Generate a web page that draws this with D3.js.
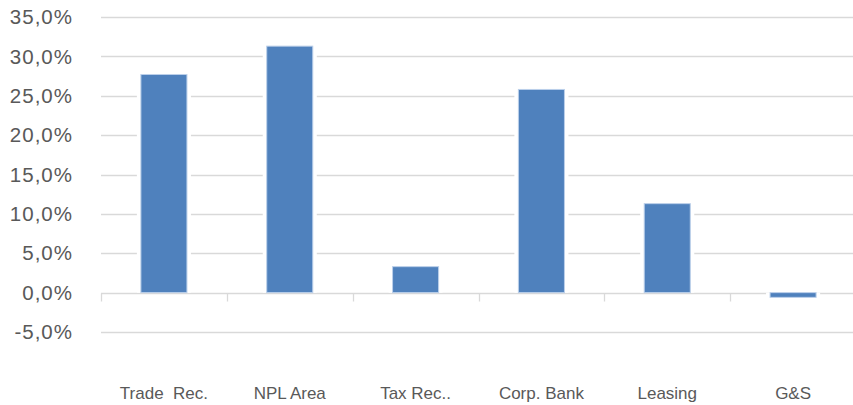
<!DOCTYPE html>
<html><head><meta charset="utf-8">
<script src="https://cdn.jsdelivr.net/npm/d3@7"></script>
<style>html,body{margin:0;padding:0;background:#fff;}svg{display:block;}</style>
</head><body>
<svg id="chart" width="853" height="405"></svg>
<script>
const categories = ["Trade  Rec.", "NPL Area", "Tax Rec..", "Corp. Bank", "Leasing", "G&S"];
const values = [27.7, 31.3, 3.3, 25.8, 11.3, -0.6];
const yTicks = [-5, 0, 5, 10, 15, 20, 25, 30, 35];

const svg = d3.select("#chart");
const margin = {left: 101, right: -3, top: 17, bottom: 73};
const W = 853, H = 405;
const x = d3.scaleBand().domain(categories).range([margin.left, W - margin.right]).paddingInner(0.634).paddingOuter(0.317);
const y = d3.scaleLinear().domain([-5, 35]).range([332, 17]);

// gridlines
svg.append("g").selectAll("line").data(yTicks.filter(d => d !== 0)).join("line")
  .attr("x1", margin.left).attr("x2", W).attr("y1", d => Math.round(y(d)) + 0.5).attr("y2", d => Math.round(y(d)) + 0.5)
  .attr("stroke", "#D9D9D9").attr("stroke-width", 1.3);

// y labels
const fmt = d => d3.format(".1f")(d).replace(".", ",").replace("\u2212", "-") + "%";
svg.append("g").selectAll("text").data(yTicks).join("text")
  .attr("x", 73).attr("y", d => y(d)).attr("dy", "0.35em").attr("text-anchor", "end")
  .attr("font-family", "'Liberation Sans', Arial, sans-serif").attr("font-size", 20.5)
  .attr("letter-spacing", 1).attr("fill", "#595959").text(fmt);

// zero axis with tick marks
const y0 = Math.round(y(0)) + 0.5;
svg.append("line").attr("x1", margin.left).attr("x2", W).attr("y1", y0).attr("y2", y0)
  .attr("stroke", "#D9D9D9").attr("stroke-width", 1.3);
const step = x.step();
const tickXs = d3.range(categories.length + 1).map(i => margin.left + i * step);
svg.append("g").selectAll("line").data(tickXs).join("line")
  .attr("x1", d => Math.round(d) + 0.5).attr("x2", d => Math.round(d) + 0.5)
  .attr("y1", y0).attr("y2", y0 + 8).attr("stroke", "#D9D9D9").attr("stroke-width", 1.3);

// bar halos (white gap in gridlines)
svg.append("g").selectAll("rect").data(values).join("rect")
  .attr("x", (d, i) => x(categories[i]) - 4)
  .attr("width", x.bandwidth() + 8)
  .attr("y", d => Math.min(y(d), y(0)))
  .attr("height", d => Math.abs(y(d) - y(0)))
  .attr("fill", "#fff");

// bars
svg.append("g").selectAll("rect").data(values).join("rect")
  .attr("x", (d, i) => x(categories[i]))
  .attr("width", x.bandwidth())
  .attr("y", d => Math.min(y(d), y(0)))
  .attr("height", d => Math.abs(y(d) - y(0)))
  .attr("fill", "#4F81BD").attr("stroke", "#BCD0EA").attr("stroke-width", 1);

// x labels
svg.append("g").selectAll("text").data(categories).join("text")
  .attr("x", d => x(d) + x.bandwidth() / 2).attr("y", 399)
  .attr("text-anchor", "middle")
  .attr("font-family", "'Liberation Sans', Arial, sans-serif").attr("font-size", 17)
  .attr("fill", "#595959").style("white-space", "pre").text(d => d);
</script>
</body></html>
